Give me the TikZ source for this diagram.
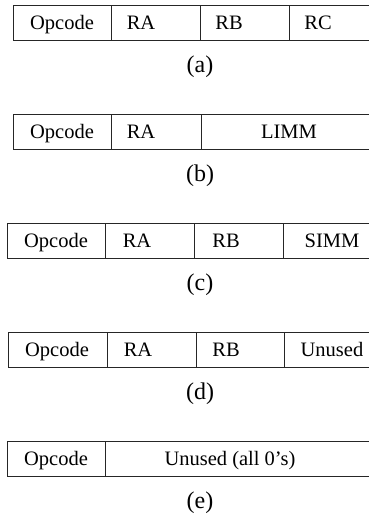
\documentclass[tikz,border=0pt]{standalone}
\usepackage{fontspec}
\setmainfont{Liberation Serif}
\begin{document}
\begin{tikzpicture}[x=1pt,y=-1pt,
  frame/.style={draw=black!85, line width=0.9pt},
  cell/.style={font=\fontsize{20.5}{20.5}\selectfont, anchor=base, inner sep=0pt},
  lbl/.style={font=\fontsize{24}{24}\selectfont, anchor=base, inner sep=0pt}]
\useasboundingbox (0,0) rectangle (369,523);
\clip (0,0) rectangle (369,523);
% (a)
\draw[frame] (13,5) rectangle (390,40);
\draw[frame] (111,5) -- (111,40) (200,5) -- (200,40) (289,5) -- (289,40);
\node[cell] (a1) at (62,29.5) {Opcode};
\node[cell] (a2) at (141,29.5) {RA};
\node[cell] (a3) at (229,29.5) {RB};
\node[cell] (a4) at (318,29.5) {RC};
\node[lbl] (la) at (200,72) {(a)};
% (b)
\draw[frame] (13,114) rectangle (390,149);
\draw[frame] (111,114) -- (111,149) (201,114) -- (201,149);
\node[cell] (b1) at (62,138.5) {Opcode};
\node[cell] (b2) at (141,138.5) {RA};
\node[cell] (b3) at (289,138.5) {LIMM};
\node[lbl] (lb) at (200,181) {(b)};
% (c)
\draw[frame] (7,223) rectangle (390,258);
\draw[frame] (105,223) -- (105,258) (194,223) -- (194,258) (283,223) -- (283,258);
\node[cell] (c1) at (56,247.5) {Opcode};
\node[cell] (c2) at (137,247.5) {RA};
\node[cell] (c3) at (226,247.5) {RB};
\node[cell] (c4) at (332,247.5) {SIMM};
\node[lbl] (lc) at (200,290) {(c)};
% (d)
\draw[frame] (8,332) rectangle (390,367);
\draw[frame] (107,332) -- (107,367) (196,332) -- (196,367) (284,332) -- (284,367);
\node[cell] (d1) at (57,356.5) {Opcode};
\node[cell] (d2) at (138,356.5) {RA};
\node[cell] (d3) at (226,356.5) {RB};
\node[cell] (d4) at (332,356.5) {Unused};
\node[lbl] (ld) at (200,399) {(d)};
% (e)
\draw[frame] (7,441) rectangle (390,476);
\draw[frame] (105,441) -- (105,476);
\node[cell] (e1) at (56,465.5) {Opcode};
\node[cell] (e2) at (230,465.5) {Unused (all 0’s)};
\node[lbl] (le) at (200,508) {(e)};
\end{tikzpicture}
\end{document}
